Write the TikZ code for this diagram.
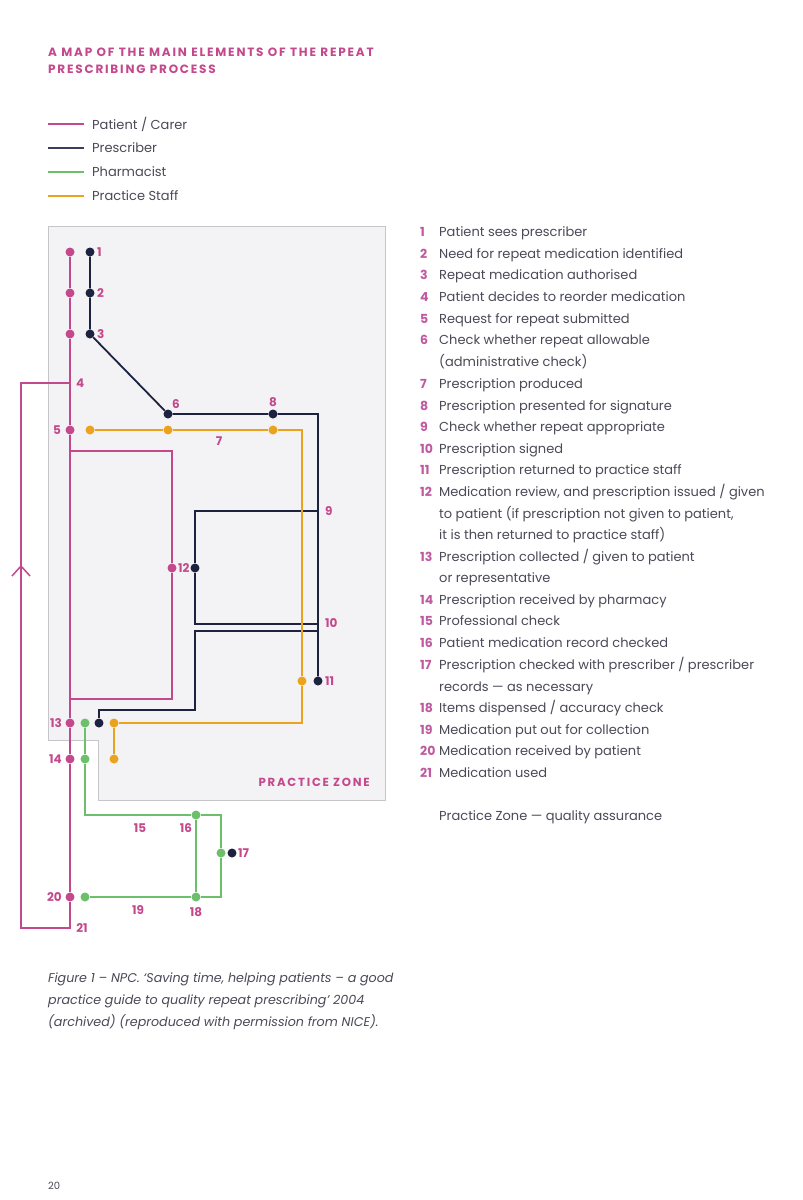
\documentclass[tikz,border=0pt]{standalone}
\usepackage{fontspec}
\setmainfont{Poppins}
\newfontfamily\titlefont{Poppins}[LetterSpace=15]
\usetikzlibrary{calc}
\definecolor{pk}{HTML}{C4498C}
\definecolor{nv}{HTML}{1C2240}
\definecolor{gr}{HTML}{6CBF6B}
\definecolor{og}{HTML}{EBA21C}
\definecolor{zonefill}{HTML}{F3F3F6}
\definecolor{zoneline}{HTML}{C6C6CA}
\definecolor{txt}{HTML}{4A4A58}
\definecolor{num}{HTML}{C05AA0}
\definecolor{legnv}{HTML}{3C3C5C}
\tikzset{
  dot/.style={circle,fill=#1,inner sep=0pt,minimum size=9pt},
  pline/.style={draw=pk,line width=1.8pt},
  nline/.style={draw=nv,line width=1.8pt},
  gline/.style={draw=gr,line width=1.8pt},
  oline/.style={draw=og,line width=1.8pt},
  lab/.style={text=pk,font=\fontsize{12}{12}\selectfont\bfseries,inner sep=0pt},
  item/.style={anchor=base west,inner sep=0pt,text=txt,font=\fontsize{13}{21.6}\selectfont,align=left},
  inum/.style={anchor=base west,inner sep=0pt,text=num,font=\fontsize{12.5}{12}\selectfont\bfseries},
}
\begin{document}
\begin{tikzpicture}[x=1pt,y=-1pt]
\useasboundingbox[fill=white] (0,0) rectangle (803,1200);
% title
\node[anchor=base west,inner sep=0pt,text=pk,font=\titlefont\fontsize{12}{17}\selectfont\bfseries,align=left] (title) at (48,73.5) {A MAP OF THE MAIN ELEMENTS OF THE REPEAT\\PRESCRIBING PROCESS};
% legend
\foreach \y/\c/\t [count=\i] in {124/pk/{Patient / Carer},148/legnv/Prescriber,172/gr/Pharmacist,196/og/Practice Staff}{
  \coordinate (la\i) at (48,\y);
  \coordinate (lb\i) at (84,\y);
  \draw[\c,line width=1.5pt] (la\i) -- (lb\i);
  \node[anchor=west,inner sep=0pt,text=txt,font=\fontsize{13}{12}\selectfont] (lt\i) at (92,\y) {\t};
}
% practice zone
\draw[fill=zonefill,draw=zoneline,line width=1pt] (48,226) -- (385,226) -- (385,800) -- (98,800) -- (98,740) -- (48,740) -- cycle;
\node[anchor=base east,inner sep=0pt,text=pk,font=\titlefont\fontsize{11.7}{12}\selectfont\bfseries] (zonelab) at (370,786.5) {PRACTICE ZONE};
% coordinates
\coordinate (p4) at (70,383);
\coordinate (p21) at (70,928);
\coordinate (pl) at (21,928);
\coordinate (pt) at (21,383);
\coordinate (arr) at (21,566);
\coordinate (r1) at (70,451);
\coordinate (r2) at (172,451);
\coordinate (r3) at (172,699);
\coordinate (r4) at (70,699);
\coordinate (c1) at (318,414);
\coordinate (c9) at (318,511);
\coordinate (b1) at (195,511);
\coordinate (b2) at (195,624);
\coordinate (c10) at (318,624);
\coordinate (c10b) at (318,631);
\coordinate (b3) at (195,631);
\coordinate (b4) at (195,710);
\coordinate (b5) at (99,710);
\coordinate (oc) at (302,430);
\coordinate (oc2) at (302,723);
\coordinate (gc1) at (85,815);
\coordinate (gc2) at (221,815);
\coordinate (gc3) at (221,897);
% dots
\node[dot=pk] (p1) at (70,252) {};
\node[dot=pk] (p2) at (70,293) {};
\node[dot=pk] (p3) at (70,334) {};
\node[dot=pk] (p5) at (70,430) {};
\node[dot=pk] (p12) at (172,568) {};
\node[dot=pk] (p13) at (70,723) {};
\node[dot=pk] (p14) at (70,759) {};
\node[dot=pk] (p20) at (70,897) {};
\node[dot=nv] (n1) at (90,252) {};
\node[dot=nv] (n2) at (90,293) {};
\node[dot=nv] (n3) at (90,334) {};
\node[dot=nv] (n6) at (168,414) {};
\node[dot=nv] (n8) at (273,414) {};
\node[dot=nv] (n12) at (195,568) {};
\node[dot=nv] (n11) at (318,681) {};
\node[dot=nv] (n13) at (99,723) {};
\node[dot=nv] (n17) at (232,853) {};
\node[dot=og] (o5) at (90,430) {};
\node[dot=og] (o6) at (168,430) {};
\node[dot=og] (o8) at (273,430) {};
\node[dot=og] (o11) at (302,681) {};
\node[dot=og] (o13) at (114,723) {};
\node[dot=og] (o14) at (114,759) {};
\node[dot=gr] (g13) at (85,723) {};
\node[dot=gr] (g14) at (85,759) {};
\node[dot=gr] (g16) at (196,815) {};
\node[dot=gr] (g17) at (221,853) {};
\node[dot=gr] (g18) at (196,897) {};
\node[dot=gr] (g20) at (85,897) {};
% patient lines
\draw[pline] (p1) -- (p2) -- (p3) -- (p5) -- (p13) -- (p14) -- (p20) -- (p21) -- (pl) -- (pt) -- (p4);
\draw[pline] (r1) -- (r2) -- (p12) -- (r3) -- (r4);
\draw[pk,line width=1.5pt] ($(arr)+(-9,10)$) -- (arr) -- ($(arr)+(9,10)$);
% prescriber lines
\draw[nline] (n1) -- (n2) -- (n3) -- (n6) -- (n8) -- (c1) -- (n11);
\draw[nline] (c9) -- (b1) -- (n12) -- (b2) -- (c10);
\draw[nline] (c10b) -- (b3) -- (b4) -- (b5) -- (n13);
% staff lines
\draw[oline] (o5) -- (o6) -- (o8) -- (oc) -- (o11) -- (oc2) -- (o13) -- (o14);
% pharmacist lines
\draw[gline] (g13) -- (g14) -- (gc1) -- (g16) -- (gc2) -- (g17) -- (gc3) -- (g18) -- (g20);
\draw[gline] (g16) -- (g18);
% labels
\node[lab,anchor=west] (l1) at (97,252) {1};
\node[lab,anchor=west] (l2) at (97,293) {2};
\node[lab,anchor=west] (l3) at (97,334) {3};
\node[lab,anchor=west] (l4) at (76,383) {4};
\node[lab,anchor=east] (l5) at (61,430) {5};
\node[lab] (l6) at (176,404) {6};
\node[lab] (l7) at (219,441) {7};
\node[lab] (l8) at (273,402) {8};
\node[lab,anchor=west] (l9) at (325,511) {9};
\node[lab,anchor=west] (l10) at (325,623) {10};
\node[lab,anchor=west] (l11) at (325,681) {11};
\node[lab,anchor=west] (l12) at (178,568) {12};
\node[lab,anchor=east] (l13) at (62,723) {13};
\node[lab,anchor=east] (l14) at (62,759) {14};
\node[lab] (l15) at (140,828) {15};
\node[lab] (l16) at (186,828) {16};
\node[lab,anchor=west] (l17) at (238,853) {17};
\node[lab] (l18) at (196,912) {18};
\node[lab] (l19) at (138,910) {19};
\node[lab,anchor=east] (l20) at (62,897) {20};
\node[lab] (l21) at (82,928) {21};
% list
\foreach \y/\n/\t in {
 236/1/{Patient sees prescriber},
 258/2/{Need for repeat medication identified},
 279/3/{Repeat medication authorised},
 301/4/{Patient decides to reorder medication},
 323/5/{Request for repeat submitted},
 344/6/{Check whether repeat allowable},
 388/7/{Prescription produced},
 410/8/{Prescription presented for signature},
 431/9/{Check whether repeat appropriate},
 453/10/{Prescription signed},
 474/11/{Prescription returned to practice staff},
 496/12/{Medication review, and prescription issued / given},
 561/13/{Prescription collected / given to patient},
 604/14/{Prescription received by pharmacy},
 625/15/{Professional check},
 647/16/{Patient medication record checked},
 669/17/{Prescription checked with prescriber / prescriber},
 712/18/{Items dispensed / accuracy check},
 734/19/{Medication put out for collection},
 755/20/{Medication received by patient},
 777/21/{Medication used}}{
  \node[inum] (n-\n) at (420,\y) {\n};
  \node[item] (t-\n) at (439,\y) {\t};
}
\node[item] (t6b) at (439,366) {(administrative check)};
\node[item] (t12b) at (439,518) {to patient (if prescription not given to patient,};
\node[item] (t12c) at (439,539) {it is then returned to practice staff)};
\node[item] (t13b) at (439,582) {or representative};
\node[item] (t17b) at (439,691) {records — as necessary};
\node[item] (tpz) at (439,820) {Practice Zone — quality assurance};
% caption
\node[anchor=base west,inner sep=0pt,text=txt,font=\fontsize{12.7}{22}\selectfont\itshape,align=left] (cap) at (48,1026) {Figure 1 – NPC. ‘Saving time, helping patients – a good\\practice guide to quality repeat prescribing’ 2004\\(archived) (reproduced with permission from NICE).};
\node[anchor=base west,inner sep=0pt,text=txt,font=\fontsize{10}{12}\selectfont] (page) at (48,1189) {20};
\end{tikzpicture}
\end{document}
